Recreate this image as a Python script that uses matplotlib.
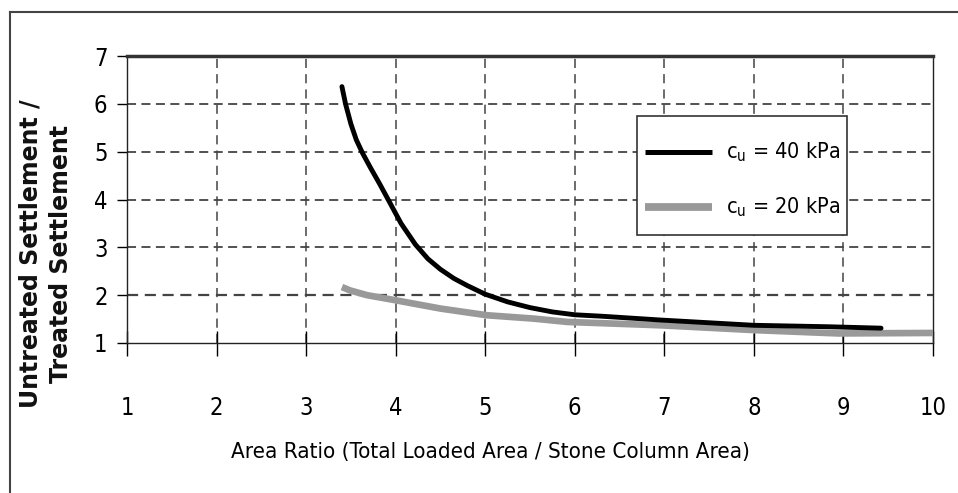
import matplotlib
matplotlib.use('Agg')
import matplotlib.pyplot as plt
from matplotlib.lines import Line2D
from matplotlib.patches import Rectangle

# Area ratio vs settlement improvement
x_40 = [3.40, 3.44, 3.50, 3.56, 3.63, 3.72, 3.82, 3.91, 4.06, 4.22, 4.36, 4.50, 4.65, 4.80,
        5.00, 5.25, 5.50, 5.75, 6.00, 6.30, 6.96, 8.00, 8.83, 9.42]
y_40 = [6.36, 6.00, 5.58, 5.25, 4.97, 4.66, 4.33, 4.02, 3.50, 3.06, 2.76, 2.54, 2.35, 2.20,
        2.02, 1.86, 1.74, 1.65, 1.59, 1.56, 1.48, 1.37, 1.34, 1.31]

x_20 = [3.40, 3.49, 3.68, 3.98, 4.50, 5.02, 5.54, 5.92, 6.96, 8.00, 8.94, 10.0]
y_20 = [2.17, 2.10, 2.00, 1.90, 1.72, 1.58, 1.51, 1.44, 1.37, 1.27, 1.20, 1.21]

xticks = list(range(1, 11))
yticks = list(range(1, 8))

series_labels = ['c$_\\mathregular{u}$ = 40 kPa', 'c$_\\mathregular{u}$ = 20 kPa']

plt.rcParams['font.family'] = ['DejaVu Sans']
plt.rcParams['font.stretch'] = 'condensed'

W, H = 958, 493
fig = plt.figure(figsize=(W / 100, H / 100), dpi=100)
ax = fig.add_axes([127 / W, 1 - 343 / H, (933 - 127) / W, (343 - 56) / H])

ax.plot(x_20, y_20, color='#999999', linewidth=4.8, solid_capstyle='butt', zorder=3)
ax.plot(x_40, y_40, color='black', linewidth=3.5, solid_capstyle='round',
        solid_joinstyle='round', zorder=4)

ax.set_xlim(1, 10)
ax.set_ylim(1, 7)
ax.set_xticks(xticks)
ax.set_yticks(yticks)

# dashed grid inside the plot
for xv in xticks[1:-1]:
    ax.axvline(xv, color='#444444', linestyle=(0, (6, 4)), linewidth=1.1, zorder=1)
for yv in yticks[1:-1]:
    ax.axhline(yv, color='#444444', linestyle=(0, (5, 3)), linewidth=1.6 if yv == 2 else 1.3, zorder=1)

ax.tick_params(axis='x', direction='inout', length=18, width=1, pad=29, labelsize=17)
ax.tick_params(axis='y', direction='out', length=7, width=1, pad=7, labelsize=17)

for side in ['left', 'right', 'bottom']:
    ax.spines[side].set_linewidth(1.0)
    ax.spines[side].set_color('#222222')
ax.spines['top'].set_linewidth(2.5)
ax.spines['top'].set_color('#333333')

ax.set_xlabel('Area Ratio (Total Loaded Area / Stone Column Area)', fontsize=16)
ax.xaxis.set_label_coords((490 - 127) / 806, -(452 - 343) / 287, transform=ax.transAxes)
ax.xaxis.label.set_va('center')

fig.text(0.032, 0.485, 'Untreated Settlement /', rotation=90, ha='center', va='center',
         fontsize=17, fontweight='bold', family='DejaVu Sans', stretch='normal', color='#111111')
fig.text(0.064, 0.485, 'Treated Settlement', rotation=90, ha='center', va='center',
         fontsize=17, fontweight='bold', family='DejaVu Sans', stretch='normal', color='#111111')

# legend box, laid out by hand to match the spacing of the original
fig.add_artist(Rectangle((637 / W, 1 - 235 / H), 210 / W, 119 / H, transform=fig.transFigure,
                         facecolor='white', edgecolor='#333333', linewidth=1.2, zorder=5))
for ypx, col, lw, lab in [(152, 'black', 3.6, series_labels[0]),
                          (207, '#999999', 5.6, series_labels[1])]:
    fig.add_artist(Line2D([645 / W, 712 / W], [1 - ypx / H] * 2, color=col, linewidth=lw,
                          solid_capstyle='butt', transform=fig.transFigure, zorder=6))
    fig.text(726 / W, 1 - ypx / H, lab, ha='left', va='center', fontsize=15.5, zorder=6)

# outer frame of the figure (left and top edges)
fig.add_artist(Line2D([10 / W, 10 / W], [0, 1 - 12 / H], color='#444444', linewidth=1.5,
                      transform=fig.transFigure))
fig.add_artist(Line2D([10 / W, 1], [1 - 12 / H, 1 - 12 / H], color='#444444', linewidth=1.5,
                      transform=fig.transFigure))

fig.savefig('out.png', dpi=100)
